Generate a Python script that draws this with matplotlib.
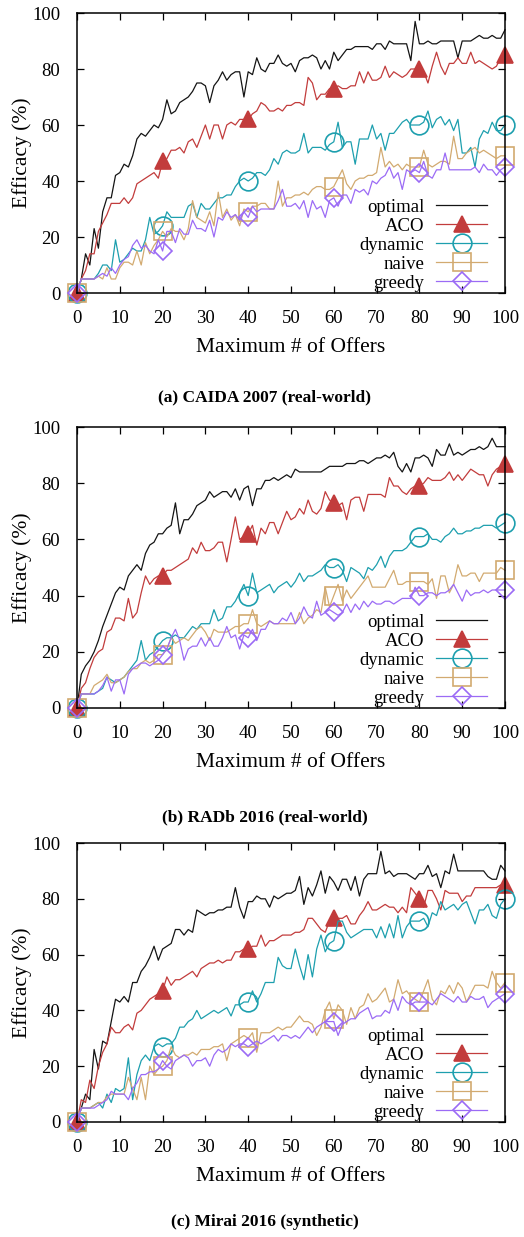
import matplotlib
matplotlib.use('Agg')
import matplotlib.pyplot as plt
import numpy as np

plt.rcParams['font.family'] = ['Liberation Serif', 'DejaVu Serif']

# x axis: maximum number of offers, 0..100
offers = list(range(101))

# --- (a) CAIDA 2007 ---
caida_optimal = [0, 5, 14, 10, 23, 16, 29, 34, 34, 42,
                 43, 46, 45, 49, 55, 57, 56, 58, 60, 59,
                 62, 69, 64, 65, 68, 69, 70, 72, 75, 75,
                 74, 68, 74, 76, 79, 76, 78, 79, 79, 70,
                 79, 78, 84, 80, 79, 82, 82, 85, 82, 81,
                 82, 79, 83, 84, 84, 85, 84, 80, 83, 80,
                 86, 83, 85, 87, 87, 88, 88, 88, 88, 87,
                 89, 89, 87, 90, 89, 89, 89, 89, 83, 97,
                 89, 89, 90, 89, 89, 90, 90, 90, 90, 84,
                 90, 90, 90, 91, 92, 91, 91, 92, 91, 91,
                 94]
caida_aco = [0, 5, 8, 14, 14, 22, 25, 28, 32, 32,
             32, 34, 32, 34, 39, 40, 41, 42, 43, 41,
             47, 48, 51, 51, 52, 50, 54, 55, 52, 56,
             60, 55, 60, 60, 55, 60, 61, 60, 62, 62,
             62, 64, 65, 68, 67, 65, 65, 66, 65, 67,
             67, 68, 68, 67, 77, 75, 69, 71, 71, 73,
             73, 74, 73, 73, 74, 74, 79, 75, 79, 76,
             76, 77, 81, 77, 79, 78, 77, 78, 80, 80,
             80, 79, 75, 81, 86, 81, 78, 82, 82, 84,
             82, 82, 86, 82, 83, 82, 81, 80, 81, 84,
             85]
caida_dynamic = [0, 5, 5, 5, 5, 7, 10, 10, 8, 19,
                 11, 12, 14, 16, 15, 15, 19, 27, 21, 22,
                 24, 29, 27, 27, 27, 27, 31, 32, 27, 32,
                 30, 30, 32, 34, 34, 35, 35, 38, 40, 41,
                 40, 41, 43, 43, 42, 44, 48, 46, 50, 51,
                 50, 50, 51, 57, 50, 52, 52, 52, 51, 53,
                 54, 61, 52, 54, 54, 46, 55, 55, 55, 60,
                 55, 57, 51, 57, 57, 59, 61, 62, 60, 60,
                 60, 61, 65, 59, 62, 63, 60, 62, 58, 62,
                 50, 50, 52, 45, 55, 58, 57, 61, 58, 58,
                 60]
caida_naive = [0, 5, 5, 5, 5, 6, 5, 9, 5, 5,
               9, 11, 11, 10, 15, 10, 18, 14, 17, 19,
               22, 20, 23, 22, 22, 19, 23, 33, 27, 26,
               25, 29, 24, 36, 27, 30, 26, 28, 24, 30,
               29, 31, 31, 32, 32, 30, 30, 40, 31, 34,
               34, 35, 35, 36, 35, 37, 38, 38, 37, 37,
               38, 41, 44, 39, 37, 40, 41, 41, 42, 42,
               43, 52, 45, 47, 45, 46, 44, 46, 45, 45,
               45, 51, 46, 45, 46, 47, 47, 46, 56, 48,
               48, 50, 51, 52, 50, 51, 50, 49, 48, 49,
               49]
caida_greedy = [0, 5, 5, 5, 5, 6, 7, 6, 9, 7,
                10, 12, 13, 17, 19, 16, 17, 15, 14, 19,
                15, 22, 22, 18, 23, 21, 21, 26, 23, 23,
                22, 26, 20, 27, 26, 29, 27, 28, 26, 29,
                27, 31, 29, 30, 30, 30, 30, 33, 37, 31,
                31, 32, 30, 33, 27, 33, 30, 31, 27, 33,
                34, 31, 35, 35, 32, 37, 36, 37, 35, 40,
                39, 41, 42, 45, 41, 43, 37, 44, 43, 44,
                43, 47, 42, 41, 44, 44, 50, 44, 44, 44,
                44, 44, 44, 45, 43, 46, 44, 44, 42, 44,
                45]

# --- (b) RADb 2016 ---
radb_optimal = [0, 12, 15, 17, 20, 24, 29, 33, 37, 41,
                43, 42, 47, 49, 51, 49, 55, 58, 59, 62,
                62, 64, 65, 73, 62, 67, 67, 69, 72, 73,
                74, 77, 75, 76, 77, 77, 75, 78, 74, 78,
                79, 72, 78, 78, 81, 81, 82, 81, 82, 83,
                82, 85, 84, 84, 84, 84, 84, 84, 85, 86,
                86, 86, 86, 87, 87, 87, 88, 88, 87, 88,
                89, 89, 90, 89, 91, 86, 84, 87, 84, 89,
                89, 90, 89, 86, 92, 90, 90, 94, 90, 91,
                90, 91, 92, 92, 93, 92, 93, 96, 93, 93,
                93]
radb_aco = [0, 7, 9, 14, 18, 20, 21, 27, 28, 32,
            32, 31, 39, 32, 34, 41, 47, 44, 46, 47,
            47, 49, 49, 50, 51, 52, 53, 57, 55, 59,
            56, 56, 57, 59, 59, 52, 60, 68, 60, 61,
            62, 65, 58, 64, 62, 66, 66, 62, 66, 70,
            67, 68, 71, 69, 74, 70, 69, 71, 77, 74,
            73, 72, 73, 67, 74, 75, 75, 70, 76, 76,
            76, 76, 75, 82, 79, 79, 77, 76, 78, 79,
            79, 80, 82, 81, 81, 81, 82, 84, 81, 83,
            81, 83, 85, 84, 83, 83, 79, 83, 85, 86,
            87]
radb_dynamic = [0, 5, 5, 5, 5, 6, 7, 11, 10, 9,
                10, 11, 13, 15, 17, 24, 17, 19, 20, 22,
                24, 25, 25, 26, 25, 25, 27, 29, 28, 30,
                30, 30, 35, 31, 32, 36, 36, 38, 41, 44,
                40, 48, 41, 42, 43, 44, 41, 43, 44, 45,
                43, 45, 48, 45, 47, 47, 48, 49, 51, 50,
                50, 51, 49, 45, 50, 49, 48, 46, 50, 49,
                51, 54, 50, 54, 56, 56, 56, 57, 59, 61,
                61, 61, 62, 60, 60, 59, 61, 62, 64, 62,
                62, 63, 63, 64, 64, 65, 65, 65, 64, 65,
                66]
radb_naive = [0, 5, 5, 5, 8, 9, 10, 12, 9, 9,
              10, 11, 13, 14, 14, 16, 17, 16, 17, 19,
              19, 21, 25, 23, 24, 25, 24, 26, 28, 29,
              27, 24, 28, 27, 27, 27, 28, 29, 29, 30,
              30, 35, 30, 29, 30, 31, 30, 30, 30, 30,
              30, 30, 34, 30, 32, 33, 35, 34, 43, 36,
              40, 44, 38, 42, 39, 41, 43, 45, 47, 43,
              43, 43, 43, 46, 49, 44, 44, 45, 45, 45,
              45, 45, 44, 46, 39, 47, 47, 41, 44, 51,
              47, 47, 48, 48, 45, 48, 48, 48, 48, 50,
              49]
radb_greedy = [0, 5, 5, 5, 5, 6, 8, 11, 6, 10,
               10, 5, 12, 14, 15, 16, 16, 15, 16, 17,
               19, 21, 25, 28, 24, 17, 21, 22, 22, 25,
               22, 25, 22, 22, 25, 29, 25, 26, 21, 26,
               25, 28, 24, 28, 28, 31, 30, 30, 32, 31,
               34, 30, 32, 36, 33, 32, 38, 33, 34, 35,
               34, 33, 34, 37, 34, 37, 35, 38, 36, 38,
               37, 37, 38, 38, 37, 38, 39, 39, 39, 43,
               40, 40, 41, 41, 40, 41, 41, 42, 44, 41,
               38, 42, 40, 41, 41, 42, 41, 42, 42, 42,
               42]

# --- (c) Mirai 2016 ---
mirai_optimal = [0, 5, 10, 8, 26, 19, 29, 28, 36, 44,
                 43, 45, 43, 50, 50, 54, 56, 59, 63, 58,
                 62, 63, 64, 69, 69, 67, 69, 68, 76, 75,
                 74, 75, 75, 76, 76, 77, 77, 84, 77, 73,
                 79, 79, 81, 80, 80, 77, 81, 80, 81, 82,
                 82, 83, 88, 78, 84, 81, 85, 90, 82, 88,
                 86, 83, 87, 87, 83, 88, 81, 87, 89, 89,
                 89, 97, 89, 90, 88, 89, 89, 89, 88, 87,
                 89, 89, 92, 88, 89, 84, 90, 89, 96, 90,
                 90, 90, 90, 90, 90, 90, 88, 87, 87, 92,
                 90]
mirai_aco = [0, 8, 7, 15, 12, 20, 25, 28, 34, 32,
             32, 34, 35, 33, 39, 40, 42, 44, 45, 46,
             47, 52, 49, 51, 51, 52, 53, 54, 52, 55,
             56, 57, 57, 58, 57, 58, 58, 61, 61, 62,
             62, 63, 63, 67, 63, 65, 65, 66, 67, 67,
             67, 68, 68, 69, 73, 73, 71, 69, 68, 72,
             73, 73, 73, 74, 71, 71, 74, 76, 79, 76,
             76, 77, 78, 77, 77, 75, 77, 75, 84, 82,
             80, 77, 83, 83, 80, 76, 83, 82, 82, 82,
             79, 81, 81, 84, 84, 84, 84, 84, 84, 85,
             85]
mirai_dynamic = [0, 5, 5, 5, 6, 7, 5, 10, 7, 12,
                 11, 12, 23, 8, 17, 22, 24, 22, 27, 28,
                 27, 28, 28, 30, 34, 34, 36, 37, 40, 37,
                 38, 39, 40, 39, 40, 41, 38, 42, 42, 43,
                 43, 47, 43, 46, 50, 50, 50, 59, 56, 55,
                 55, 62, 56, 51, 60, 52, 62, 67, 61, 64,
                 65, 72, 72, 68, 66, 67, 68, 69, 69, 69,
                 66, 70, 66, 71, 66, 74, 66, 70, 72, 72,
                 72, 73, 70, 75, 74, 79, 76, 77, 78, 76,
                 78, 79, 75, 71, 76, 76, 78, 74, 73, 78,
                 80]
mirai_naive = [0, 5, 5, 5, 6, 7, 7, 9, 10, 10,
               10, 10, 16, 12, 8, 16, 8, 20, 17, 19,
               20, 22, 27, 24, 23, 24, 24, 25, 24, 26,
               26, 26, 27, 27, 28, 22, 28, 29, 30, 31,
               30, 32, 25, 32, 32, 32, 33, 34, 33, 34,
               34, 36, 38, 36, 36, 35, 31, 34, 40, 43,
               37, 42, 40, 35, 41, 37, 41, 42, 46, 43,
               44, 46, 48, 43, 44, 51, 46, 47, 45, 44,
               43, 47, 51, 44, 42, 47, 46, 49, 46, 50,
               48, 43, 46, 49, 49, 49, 48, 54, 50, 48,
               50]
mirai_greedy = [0, 5, 5, 5, 5, 6, 7, 8, 11, 10,
                10, 10, 8, 12, 14, 17, 17, 18, 18, 19,
                22, 20, 19, 22, 23, 24, 23, 20, 22, 22,
                23, 20, 24, 26, 25, 26, 28, 27, 28, 28,
                27, 28, 29, 28, 29, 30, 31, 29, 31, 31,
                30, 31, 30, 32, 34, 32, 34, 35, 36, 36,
                36, 31, 35, 36, 37, 37, 39, 40, 41, 37,
                38, 38, 40, 39, 44, 40, 45, 43, 42, 43,
                43, 43, 43, 42, 44, 46, 45, 44, 43, 45,
                43, 43, 45, 44, 44, 45, 41, 43, 44, 45,
                46]

series_names = ['optimal', 'ACO', 'dynamic', 'naive', 'greedy']
captions = ['(a) CAIDA 2007 (real-world)', '(b) RADb 2016 (real-world)',
            '(c) Mirai 2016 (synthetic)']
panels = [
    [caida_optimal, caida_aco, caida_dynamic, caida_naive, caida_greedy],
    [radb_optimal, radb_aco, radb_dynamic, radb_naive, radb_greedy],
    [mirai_optimal, mirai_aco, mirai_dynamic, mirai_naive, mirai_greedy],
]

# style per series: colour, marker, marker size, filled
styles = [
    ('#141414', None, 0, False),
    ('#c23c3c', '^', 12, True),
    ('#1d9fae', 'o', 13.5, False),
    ('#d2aa70', 's', 13.5, False),
    ('#9b6bf5', 'D', 9.5, False),
]

W, H = 524, 1237
fig = plt.figure(figsize=(W / 100, H / 100), dpi=100)

# axes frames in pixels: (top, bottom), shared left/right
frames = [(13, 293), (427, 708), (843, 1122)]
cap_y = [397, 817, 1222]
left_px, right_px = 77, 505

for k, (top, bot) in enumerate(frames):
    ax = fig.add_axes([left_px / W, 1 - bot / H, (right_px - left_px) / W, (bot - top) / H])
    for vals, name, (col, mk, ms, filled) in zip(panels[k], series_names, styles):
        ax.plot(offers, vals, color=col, lw=0.9, label=name,
                marker=mk, markevery=20, markersize=ms,
                markerfacecolor=col if filled else 'none',
                markeredgecolor=col, markeredgewidth=1.2, clip_on=False)
    ax.set_xlim(0, 100)
    ax.set_ylim(0, 100)
    ax.set_xticks(np.arange(0, 101, 10))
    ax.set_yticks(np.arange(0, 101, 20))
    ax.tick_params(direction='in', length=5, width=0.9, labelsize=13.5,
                   top=True, right=True)
    ax.tick_params(axis='x', pad=12)
    ax.tick_params(axis='y', pad=12)
    for sp in ax.spines.values():
        sp.set_linewidth(1.1)
    ax.set_xlabel('Maximum # of Offers', fontsize=15.5, labelpad=8)
    ax.set_ylabel('Efficacy (%)', fontsize=15.5, labelpad=0)
    ax.legend(loc='lower right', bbox_to_anchor=(0.958, 0.005), frameon=False,
              markerfirst=False, fontsize=13.5, handlelength=2.7, handletextpad=0.65,
              labelspacing=0.1, borderaxespad=0, borderpad=0, numpoints=1)
    fig.text(265 / W, 1 - cap_y[k] / H, captions[k],
             ha='center', va='center', fontsize=12.5, fontweight='bold')

fig.savefig('out.png', dpi=100)
